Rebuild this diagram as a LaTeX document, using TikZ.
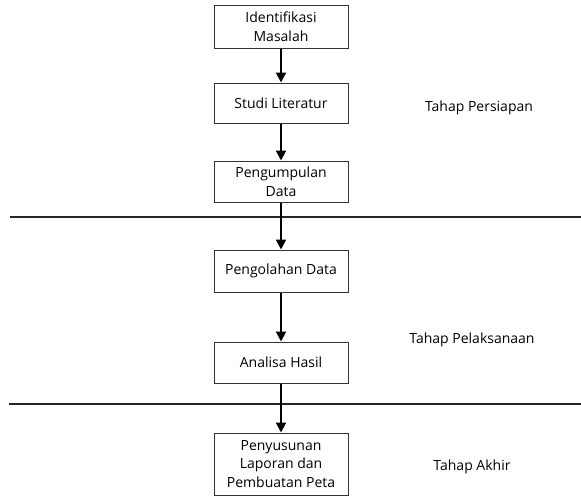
\documentclass[tikz,border=0pt]{standalone}
\usepackage{fontspec}
\setmainfont{Open Sans}
\usetikzlibrary{arrows.meta}
\begin{document}
\begin{tikzpicture}[x=0.75pt,y=-0.75pt,
  stagebox/.style={draw=black!80,line width=0.75pt,minimum width=134*0.75pt,
    align=center,inner sep=0pt,font=\fontsize{10.5pt}{14pt}\selectfont},
  flow/.style={line width=1.5pt,-{Triangle[length=7.5pt,width=7.5pt]}},
  divider/.style={line width=1.1pt,black!85},
  phase/.style={font=\fontsize{10.5pt}{14pt}\selectfont}]
\useasboundingbox (0,0) rectangle (581,496);
% process steps
\node[stagebox,minimum height=43*0.75pt] (idm) at (281,26.5) {Identifikasi\\Masalah};
\node[stagebox,minimum height=40*0.75pt] (lit) at (281,103) {Studi Literatur};
\node[stagebox,minimum height=41*0.75pt] (dat) at (281,181.5) {Pengumpulan\\Data};
\node[stagebox,minimum height=42*0.75pt] (olh) at (281,271) {Pengolahan Data};
\node[stagebox,minimum height=41*0.75pt] (ana) at (281,362.5) {Analisa Hasil};
\node[stagebox,minimum height=62*0.75pt] (lap) at (281,464) {Penyusunan\\Laporan dan\\Pembuatan Peta};
% phase separators
\coordinate (s1a) at (10,217);
\coordinate (s1b) at (581,217);
\coordinate (s2a) at (9,404);
\coordinate (s2b) at (581,404);
\draw[divider] (s1a) -- (s1b);
\draw[divider] (s2a) -- (s2b);
% connectors
\draw[flow] (idm) -- (lit);
\draw[flow] (lit) -- (dat);
\draw[flow] (dat) -- (olh);
\draw[flow] (olh) -- (ana);
\draw[flow] (ana) -- (lap);
% phase labels
\node[phase] (p1) at (479,108) {Tahap Persiapan};
\node[phase] (p2) at (472,340) {Tahap Pelaksanaan};
\node[phase] (p3) at (472,467) {Tahap Akhir};
\end{tikzpicture}
\end{document}
